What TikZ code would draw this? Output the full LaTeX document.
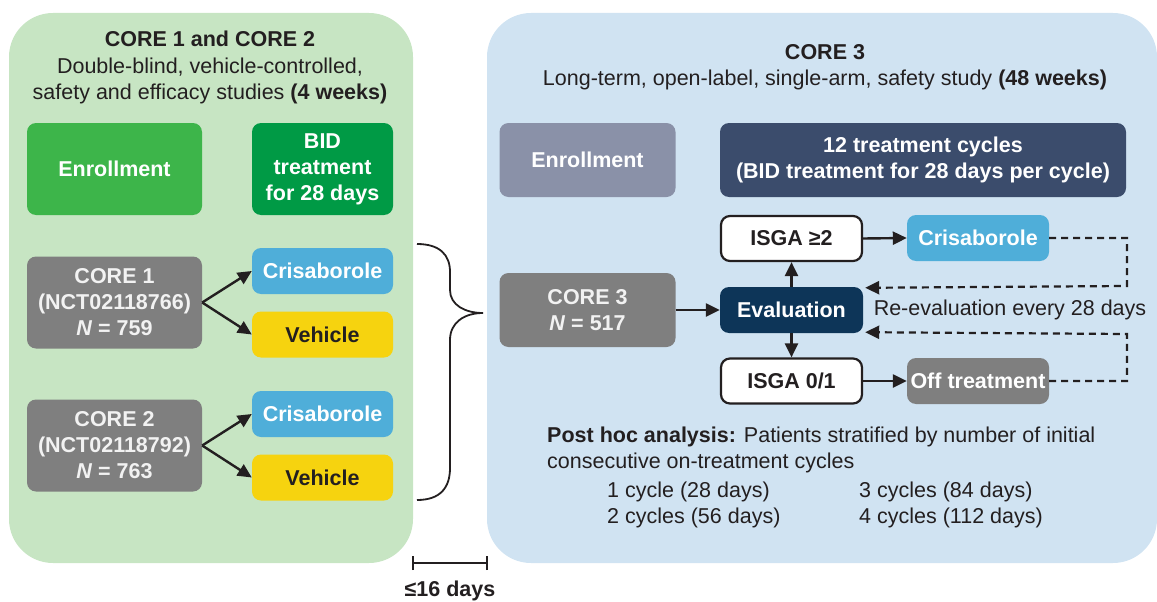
\documentclass[tikz,border=0pt]{standalone}
\usepackage{fontspec}
\setmainfont{Liberation Sans}
\usetikzlibrary{arrows.meta}
\definecolor{panelgreen}{HTML}{C7E5C3}
\definecolor{panelblue}{HTML}{D0E3F2}
\definecolor{enrgreen}{HTML}{3DB54A}
\definecolor{bidgreen}{HTML}{009A45}
\definecolor{boxgray}{HTML}{7F7F7F}
\definecolor{crisblue}{HTML}{4FAED9}
\definecolor{vehyellow}{HTML}{F6D30F}
\definecolor{enrblue}{HTML}{8A91A8}
\definecolor{cyclenavy}{HTML}{3B4C6C}
\definecolor{evalnavy}{HTML}{0D3558}
\definecolor{inkdark}{HTML}{231F20}
\definecolor{lightwhite}{HTML}{F2F2F2}
\tikzset{
  panel/.style={rounded corners=44pt, inner sep=0pt},
  box/.style={rounded corners=9pt, inner sep=0pt, align=center, text=white,
    font=\bfseries\fontsize{21.5}{26}\selectfont},
  wbox/.style={box, fill=white, draw=inkdark, line width=2.2pt, text=inkdark},
  txt/.style={inner sep=0pt, text=inkdark, font=\fontsize{21.5}{26}\selectfont},
  arr/.style={draw=inkdark, line width=2.4pt, -{Triangle[length=14pt,width=13pt]}},
  darr/.style={draw=inkdark, line width=2.2pt, dash pattern=on 7pt off 5pt,
    -{Triangle[length=14pt,width=13pt]}},
}
\begin{document}
\begin{tikzpicture}[x=1pt,y=-1pt]
\useasboundingbox (0,0) rectangle (1157,602);
% panels
\node[panel, fill=panelgreen, minimum width=404pt, minimum height=550pt] (pg) at (211,288) {};
\node[panel, fill=panelblue, minimum width=670pt, minimum height=550pt] (pb) at (822,288) {};
% left titles
\node[txt, align=center, font=\fontsize{21.5}{26.5}\selectfont] (t1) at (210,67.5) {\textbf{CORE 1 and CORE 2}\\Double-blind, vehicle-controlled,\\safety and efficacy studies \textbf{(4 weeks)}};
% left boxes
\node[box, fill=enrgreen, minimum width=175pt, minimum height=92pt] (enr1) at (114.5,169) {Enrollment};
\node[box, fill=bidgreen, minimum width=141pt, minimum height=92pt] (bid) at (322.5,169) {BID\\treatment\\for 28 days};
\node[box, fill=boxgray, text=lightwhite, minimum width=175pt, minimum height=92pt] (c1) at (114.5,302.5) {CORE 1\\(NCT02118766)\\\textit{N} = 759};
\node[box, fill=crisblue, minimum width=141pt, minimum height=46pt] (cr1) at (322.5,271) {Crisaborole};
\node[box, fill=vehyellow, text=inkdark, minimum width=141pt, minimum height=46pt] (v1) at (322.5,334.5) {Vehicle};
\node[box, fill=boxgray, text=lightwhite, minimum width=175pt, minimum height=92pt] (c2) at (114.5,445.5) {CORE 2\\(NCT02118792)\\\textit{N} = 763};
\node[box, fill=crisblue, minimum width=141pt, minimum height=46pt] (cr2) at (322.5,414) {Crisaborole};
\node[box, fill=vehyellow, text=inkdark, minimum width=141pt, minimum height=46pt] (v2) at (322.5,477.5) {Vehicle};
\draw[arr] (c1.east) -- (cr1.west);
\draw[arr] (c1.east) -- (v1.west);
\draw[arr] (c2.east) -- (cr2.west);
\draw[arr] (c2.east) -- (v2.west);
% brace
\coordinate (bt) at (417,244);
\coordinate (bm) at (483,313);
\coordinate (bb) at (417,500);
\draw[draw=inkdark, line width=1.8pt] (bt) .. controls (440,244) and (450,255) .. (450,272) -- (450,290)
  .. controls (450,305) and (465,313) .. (bm)
  .. controls (465,313) and (450,322) .. (450,340) -- (450,468)
  .. controls (450,488) and (440,500) .. (bb);
% scale bar
\coordinate (sl) at (413,563);
\coordinate (sr) at (487,563);
\draw[draw=inkdark, line width=2.2pt] (sl) -- (sr);
\draw[draw=inkdark, line width=2.2pt] ([yshift=-7pt]sl) -- ([yshift=7pt]sl);
\draw[draw=inkdark, line width=2.2pt] ([yshift=-7pt]sr) -- ([yshift=7pt]sr);
\node[txt, font=\bfseries\fontsize{21.5}{26}\selectfont] (sd) at (450,591) {≤16 days};
% right titles
\node[txt, align=center] (t3) at (825,67) {\textbf{CORE 3}\\Long-term, open-label, single-arm, safety study \textbf{(48 weeks)}};
% right boxes
\node[box, fill=enrblue, minimum width=176pt, minimum height=74pt] (enr3) at (587.5,160) {Enrollment};
\node[box, fill=cyclenavy, minimum width=406pt, minimum height=74pt] (cyc) at (923,160) {12 treatment cycles\\(BID treatment for 28 days per cycle)};
\node[box, fill=boxgray, text=lightwhite, minimum width=176pt, minimum height=74pt] (c3) at (587.5,310) {CORE 3\\\textit{N} = 517};
\node[wbox, minimum width=141pt, minimum height=45pt] (ig2) at (791.5,238.5) {ISGA ≥2};
\node[box, fill=evalnavy, minimum width=143pt, minimum height=46pt] (ev) at (791.5,310) {Evaluation};
\node[wbox, minimum width=141pt, minimum height=45pt] (ig0) at (791.5,381) {ISGA 0/1};
\node[box, fill=crisblue, minimum width=142pt, minimum height=46pt] (cr3) at (978,238) {Crisaborole};
\node[box, fill=boxgray, minimum width=142pt, minimum height=46pt] (off) at (978,381) {Off treatment};
\node[txt] (re) at (1010,310) {Re-evaluation every 28 days};
\draw[arr] (c3.east) -- (ev.west);
\draw[arr] (ev.north) -- (ig2.south);
\draw[arr] (ev.south) -- (ig0.north);
\draw[arr] (ig2.east) -- (cr3.west);
\draw[arr] (ig0.east) -- (off.west);
\coordinate (dx1) at (1127,238);
\coordinate (dx2) at (1127,286);
\coordinate (dx3) at (1127,334);
\coordinate (dx4) at (1127,381);
\draw[darr] (cr3.east) -- (dx1) -- (dx2) -- ([xshift=2pt,yshift=-1pt]ev.north east);
\draw[darr] (off.east) -- (dx4) -- (dx3) -- ([xshift=2pt,yshift=1pt]ev.south east);
% post hoc
\node[txt, anchor=west, align=left] (ph) at (547,449.5) {\textbf{Post hoc analysis:} Patients stratified by number of initial\\consecutive on-treatment cycles};
\node[txt, anchor=west, align=left] (cyA) at (607,504.5) {1 cycle (28 days)\\2 cycles (56 days)};
\node[txt, anchor=west, align=left] (cyB) at (859,504.5) {3 cycles (84 days)\\4 cycles (112 days)};
\end{tikzpicture}
\end{document}
